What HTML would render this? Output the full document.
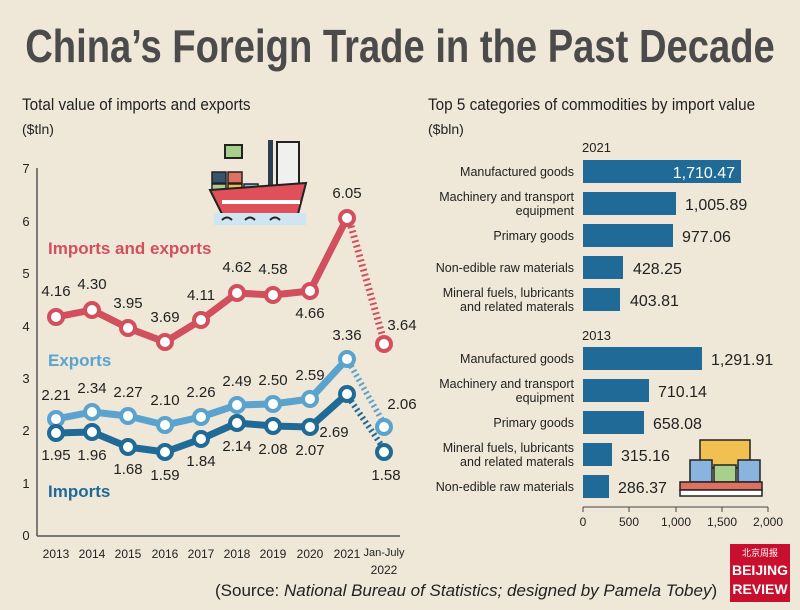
<!DOCTYPE html>
<html><head><meta charset="utf-8"><style>
body{margin:0;background:#efe8d8;}
svg{display:block;font-family:"Liberation Sans","DejaVu Sans",sans-serif;}
</style></head><body>
<svg width="800" height="610" viewBox="0 0 800 610" xmlns="http://www.w3.org/2000/svg">
<rect width="800" height="610" fill="#efe8d8"/>
<text x="400" y="62" text-anchor="middle" font-size="46" font-weight="bold" fill="#4b4b4b" transform="translate(400 0) scale(0.83 1) translate(-400 0)">China’s Foreign Trade in the Past Decade</text>
<text x="22" y="110" font-size="17" fill="#222" transform="translate(22 0) scale(0.9 1) translate(-22 0)">Total value of imports and exports</text>
<text x="22" y="134" font-size="14" fill="#222">($tln)</text>
<text x="428" y="110" font-size="17" fill="#222" transform="translate(428 0) scale(0.9 1) translate(-428 0)">Top 5 categories of commodities by import value</text>
<text x="428" y="134" font-size="14" fill="#222">($bln)</text>

<!-- left axes -->
<line x1="37" y1="168" x2="37" y2="536" stroke="#555" stroke-width="1.5"/>
<line x1="37" y1="536" x2="400" y2="536" stroke="#555" stroke-width="1.5"/>
<g font-size="13" fill="#222" text-anchor="middle">
<text x="26" y="540">0</text><text x="26" y="488">1</text><text x="26" y="435">2</text><text x="26" y="383">3</text><text x="26" y="331">4</text><text x="26" y="278">5</text><text x="26" y="226">6</text><text x="26" y="173">7</text>
</g>
<g font-size="12" fill="#222" text-anchor="middle">
<text x="56" y="558">2013</text><text x="92" y="558">2014</text><text x="128" y="558">2015</text><text x="165" y="558">2016</text><text x="201" y="558">2017</text><text x="237" y="558">2018</text><text x="273" y="558">2019</text><text x="310" y="558">2020</text><text x="347" y="558">2021</text><text x="384" y="556" font-size="11">Jan-July</text><text x="384" y="574">2022</text>
</g>

<!-- ship icon -->
<g>
<rect x="268" y="140" width="5" height="45" fill="#2c3e50"/>
<rect x="225" y="145" width="17" height="13" fill="#a8d08d" stroke="#222" stroke-width="2"/>
<rect x="277" y="142" width="22" height="43" fill="#f0f0f0" stroke="#222" stroke-width="2"/>
<rect x="212" y="172" width="14" height="11" fill="#36546e" stroke="#222" stroke-width="1.5"/>
<rect x="228" y="172" width="14" height="11" fill="#e07060" stroke="#222" stroke-width="1.5"/>
<rect x="212" y="184" width="14" height="10" fill="#a8d08d" stroke="#222" stroke-width="1.5"/>
<rect x="228" y="184" width="14" height="10" fill="#f1c050" stroke="#222" stroke-width="1.5"/>
<rect x="244" y="184" width="14" height="10" fill="#8ab4e0" stroke="#222" stroke-width="1.5"/>
<path d="M210 190 L306 183 L298 214 L222 214 Z" fill="#e0505a" stroke="#222" stroke-width="2"/>
<rect x="222" y="200" width="78" height="4" fill="#fff"/>
<rect x="214" y="213" width="92" height="12" fill="#cfe6f2"/>
<path d="M222 220 q5 -5 10 0 M245 220 q5 -5 10 0 M270 220 q5 -5 10 0" stroke="#222" stroke-width="2" fill="none"/>
</g>

<!-- series -->
<g fill="none" stroke-linejoin="round">
<polyline points="56,317 92,310 128,328 165,342 201,320 237,293 273,295 310,291 347,218" stroke="#d24f5e" stroke-width="7"/>
<line x1="351" y1="226" x2="383" y2="338" stroke="#d24f5e" stroke-width="7" stroke-dasharray="2 3"/>
<polyline points="56,419 92,412 128,416 165,425 201,417 237,405 273,404 310,399 347,359" stroke="#5ba3cf" stroke-width="7"/>
<line x1="351" y1="366" x2="382" y2="420" stroke="#5ba3cf" stroke-width="6" stroke-dasharray="2 3"/>
<polyline points="56,433 92,432 128,447 165,452 201,439 237,423 273,426 310,427 347,394" stroke="#1f6a96" stroke-width="7"/>
<line x1="351" y1="401" x2="382" y2="446" stroke="#1f6a96" stroke-width="6" stroke-dasharray="2 3"/>
</g>
<g fill="#fff" stroke-width="4">
<g stroke="#d24f5e"><circle cx="56" cy="317" r="7"/><circle cx="92" cy="310" r="7"/><circle cx="128" cy="328" r="7"/><circle cx="165" cy="342" r="7"/><circle cx="201" cy="320" r="7"/><circle cx="237" cy="293" r="7"/><circle cx="273" cy="295" r="7"/><circle cx="310" cy="291" r="7"/><circle cx="347" cy="218" r="7"/><circle cx="384" cy="344" r="7"/></g>
<g stroke="#5ba3cf"><circle cx="56" cy="419" r="7"/><circle cx="92" cy="412" r="7"/><circle cx="128" cy="416" r="7"/><circle cx="165" cy="425" r="7"/><circle cx="201" cy="417" r="7"/><circle cx="237" cy="405" r="7"/><circle cx="273" cy="404" r="7"/><circle cx="310" cy="399" r="7"/><circle cx="347" cy="359" r="7"/><circle cx="384" cy="427" r="7"/></g>
<g stroke="#1f6a96"><circle cx="56" cy="433" r="7"/><circle cx="92" cy="432" r="7"/><circle cx="128" cy="447" r="7"/><circle cx="165" cy="452" r="7"/><circle cx="201" cy="439" r="7"/><circle cx="237" cy="423" r="7"/><circle cx="273" cy="426" r="7"/><circle cx="310" cy="427" r="7"/><circle cx="347" cy="394" r="7"/><circle cx="384" cy="452" r="7"/></g>
</g>
<g font-size="15" fill="#222" text-anchor="middle">
<text x="56" y="296">4.16</text><text x="92" y="289">4.30</text><text x="128" y="308">3.95</text><text x="165" y="322">3.69</text><text x="201" y="300">4.11</text><text x="237" y="272">4.62</text><text x="273" y="274">4.58</text><text x="310" y="318">4.66</text><text x="347" y="198">6.05</text><text x="402" y="330">3.64</text>
<text x="56" y="400">2.21</text><text x="92" y="393">2.34</text><text x="128" y="397">2.27</text><text x="165" y="405">2.10</text><text x="201" y="397">2.26</text><text x="237" y="386">2.49</text><text x="273" y="385">2.50</text><text x="310" y="380">2.59</text><text x="347" y="340">3.36</text><text x="402" y="409">2.06</text>
<text x="56" y="460">1.95</text><text x="92" y="460">1.96</text><text x="128" y="474">1.68</text><text x="165" y="480">1.59</text><text x="201" y="466">1.84</text><text x="237" y="451">2.14</text><text x="273" y="454">2.08</text><text x="310" y="455">2.07</text><text x="334" y="437">2.69</text><text x="386" y="480">1.58</text>
</g>
<g font-size="17" font-weight="bold">
<text x="48" y="254" fill="#d24f5e">Imports and exports</text>
<text x="48" y="366" fill="#5ba3cf">Exports</text>
<text x="48" y="497" fill="#1f6a96">Imports</text>
</g>

<!-- right chart -->
<g font-size="13" fill="#222">
<text x="582" y="152">2021</text><text x="582" y="340">2013</text>
</g>
<g fill="#1f6a96">
<rect x="583" y="160" width="158" height="23"/><rect x="583" y="192" width="93" height="23"/><rect x="583" y="224" width="90" height="23"/><rect x="583" y="256" width="40" height="23"/><rect x="583" y="288" width="37" height="23"/>
<rect x="583" y="347" width="119" height="23"/><rect x="583" y="379" width="66" height="23"/><rect x="583" y="411" width="61" height="23"/><rect x="583" y="443" width="29" height="23"/><rect x="583" y="475" width="26" height="23"/>
</g>
<g font-size="12.5" fill="#222" text-anchor="end">
<text x="574" y="176">Manufactured goods</text>
<text x="574" y="201">Machinery and transport</text><text x="574" y="215">equipment</text>
<text x="574" y="240">Primary goods</text>
<text x="574" y="272">Non-edible raw materials</text>
<text x="574" y="297">Mineral fuels, lubricants</text><text x="574" y="311">and related materals</text>
<text x="574" y="363">Manufactured goods</text>
<text x="574" y="388">Machinery and transport</text><text x="574" y="402">equipment</text>
<text x="574" y="427">Primary goods</text>
<text x="574" y="452">Mineral fuels, lubricants</text><text x="574" y="466">and related materals</text>
<text x="574" y="491">Non-edible raw materials</text>
</g>
<g font-size="16" fill="#222">
<text x="735" y="178" text-anchor="end" fill="#fff">1,710.47</text>
<text x="685" y="210">1,005.89</text><text x="682" y="242">977.06</text><text x="633" y="274">428.25</text><text x="630" y="306">403.81</text>
<text x="711" y="365">1,291.91</text><text x="658" y="397">710.14</text><text x="653" y="429">658.08</text><text x="621" y="461">315.16</text><text x="618" y="493">286.37</text>
</g>
<line x1="583" y1="507" x2="768" y2="507" stroke="#444" stroke-width="1"/>
<g stroke="#444"><line x1="583" y1="507" x2="583" y2="512"/><line x1="629" y1="507" x2="629" y2="512"/><line x1="676" y1="507" x2="676" y2="512"/><line x1="722" y1="507" x2="722" y2="512"/><line x1="768" y1="507" x2="768" y2="512"/></g>
<g font-size="12" fill="#222" text-anchor="middle">
<text x="583" y="526">0</text><text x="629" y="526">500</text><text x="676" y="526">1,000</text><text x="722" y="526">1,500</text><text x="768" y="526">2,000</text>
</g>
<!-- boxes icon -->
<g stroke="#222" stroke-width="1.5">
<rect x="700" y="440" width="50" height="28" fill="#f1c050"/>
<rect x="690" y="460" width="22" height="22" fill="#8ab4e0"/>
<rect x="714" y="465" width="22" height="17" fill="#a8d08d"/>
<rect x="738" y="460" width="22" height="22" fill="#8ab4e0"/>
<rect x="680" y="482" width="82" height="8" fill="#e07060"/>
<rect x="680" y="490" width="82" height="6" fill="#fff"/>
</g>

<!-- logo -->
<rect x="730" y="544" width="60" height="58" fill="#c8102e"/>
<text x="760" y="556" text-anchor="middle" font-size="9" fill="#fff" font-family="'Noto Sans CJK SC',sans-serif">北京周报</text>
<text x="760" y="575" text-anchor="middle" font-size="14" font-weight="bold" fill="#fff">BEIJING</text>
<text x="760" y="594" text-anchor="middle" font-size="14" font-weight="bold" fill="#fff">REVIEW</text>

<text x="215" y="596" font-size="17" fill="#222">(Source: <tspan font-style="italic">National Bureau of Statistics; designed by Pamela Tobey</tspan>)</text>
</svg>
</body></html>
